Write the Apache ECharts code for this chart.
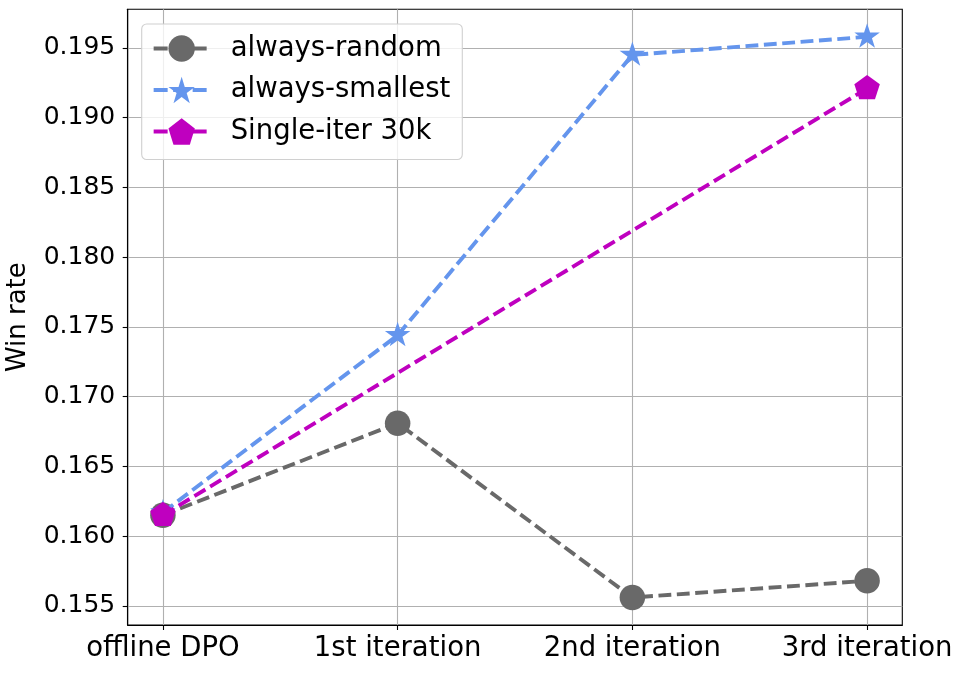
<!DOCTYPE html>
<html>
<head>
<meta charset="utf-8">
<script src="https://cdn.jsdelivr.net/npm/echarts@6/dist/echarts.min.js"></script>
<style>
  html, body { margin: 0; padding: 0; background: #ffffff; }
  #chart { width: 962px; height: 673px; }
</style>
</head>
<body>
<div id="chart"></div>
<script>
// ---- data ----
const categories = ['offline DPO', '1st iteration', '2nd iteration', '3rd iteration'];
const alwaysRandom = [0.1615, 0.1681, 0.1556, 0.1568];
const alwaysSmallest = [0.1617, 0.1744, 0.1945, 0.1958];
const singleIter30k = [0.1615, null, null, 0.1921];
const yTicks = [0.155, 0.160, 0.165, 0.170, 0.175, 0.180, 0.185, 0.190, 0.195];
const xTicks = [0, 1, 2, 3];

const FONT = 'DejaVu Sans';
const STAR = 'path://M50 0 L61.23 34.55 L97.55 34.55 L68.16 55.9 L79.39 90.45 L50 69.1 L20.61 90.45 L31.84 55.9 L2.45 34.55 L38.77 34.55 Z';
const PENTA = 'path://M50 0 L97.55 34.55 L79.39 90.45 L20.61 90.45 L2.45 34.55 Z';

function pairs(vals) { return vals.map((v, i) => [i, v]); }

const LW = 3.9;
const DASH = [12.85, 5.56];

const chart = echarts.init(document.getElementById('chart'), null, { renderer: 'canvas' });
chart.setOption({
  backgroundColor: '#ffffff',
  animation: false,
  grid: {
    left: 127.7, top: 9.3, right: 59.7, bottom: 48,
    outerBoundsMode: 'none', containLabel: false,
    show: true, borderColor: '#000000', borderWidth: 1.1, backgroundColor: 'transparent'
  },
  legend: {
    left: 141.7, top: 24,
    orient: 'vertical',
    padding: [10.5, 12, 14, 10],
    itemWidth: 56, itemHeight: 33, itemGap: 13.5,
    backgroundColor: 'rgba(255,255,255,0.8)',
    borderColor: '#d0d0d0', borderWidth: 1.1, borderRadius: 5,
    lineStyle: { width: LW, type: [14, 5.5] },
    textStyle: { fontFamily: FONT, fontSize: 27.5, color: '#000000', padding: [0, 0, 0, 16] },
    data: ['always-random', 'always-smallest', 'Single-iter 30k']
  },
  xAxis: {
    type: 'value', min: -0.15, max: 3.15,
    axisLine: { show: true, onZero: false, lineStyle: { color: '#000000', width: 1.1 } },
    axisTick: { show: true, length: 5, lineStyle: { color: '#000000', width: 1.1 }, customValues: xTicks },
    axisLabel: {
      customValues: xTicks, margin: 10,
      fontFamily: FONT, fontSize: 27.5, color: '#000000',
      formatter: v => categories[Math.round(v)]
    },
    splitLine: { show: true, lineStyle: { color: '#b0b0b0', width: 1.1 } }
  },
  yAxis: {
    type: 'value', min: 0.15363, max: 0.19777,
    name: 'Win rate', nameLocation: 'middle', nameGap: 96,
    nameTextStyle: { fontFamily: FONT, fontSize: 26, color: '#000000' },
    axisLine: { show: true, onZero: false, lineStyle: { color: '#000000', width: 1.1 } },
    axisTick: { show: true, length: 5, lineStyle: { color: '#000000', width: 1.1 }, customValues: yTicks },
    axisLabel: {
      customValues: yTicks, margin: 12.5,
      fontFamily: FONT, fontSize: 25, color: '#000000',
      formatter: v => v.toFixed(3)
    },
    splitLine: { show: true, lineStyle: { color: '#b0b0b0', width: 1.1 } }
  },
  series: [
    {
      name: 'always-random', type: 'line', data: pairs(alwaysRandom),
      symbol: 'circle', symbolSize: 25.5,
      itemStyle: { color: '#696969' },
      lineStyle: { color: '#696969', width: LW, type: DASH },
      z: 2
    },
    {
      name: 'always-smallest', type: 'line', data: pairs(alwaysSmallest),
      symbol: STAR, symbolSize: [25.5, 24.3], symbolOffset: [0, -1.3],
      itemStyle: { color: '#6495ED' },
      lineStyle: { color: '#6495ED', width: LW, type: DASH },
      z: 3
    },
    {
      name: 'Single-iter 30k', type: 'line', data: pairs(singleIter30k), connectNulls: true,
      symbol: PENTA, symbolSize: [25.5, 24.3], symbolOffset: [0, -1.3],
      itemStyle: { color: '#BF00BF' },
      lineStyle: { color: '#BF00BF', width: LW, type: DASH },
      z: 4
    }
  ]
});
</script>
</body>
</html>
